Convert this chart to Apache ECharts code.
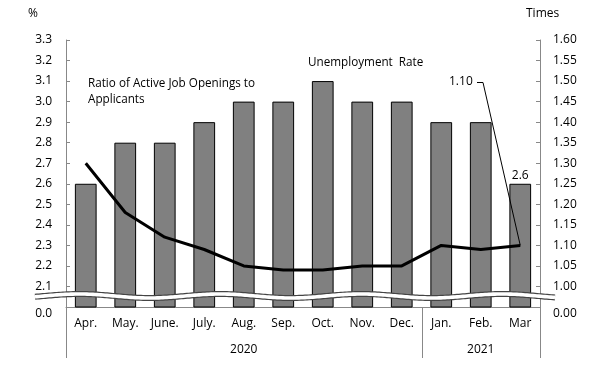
<!DOCTYPE html>
<html>
<head>
<meta charset="utf-8">
<script src="https://cdn.jsdelivr.net/npm/echarts@6/dist/echarts.min.js"></script>
<style>html,body{margin:0;padding:0;background:#fff;}#c{width:605px;height:367px;}</style>
</head>
<body>
<div id="c"></div>
<script>
var months = ['Apr.','May.','June.','July.','Aug.','Sep.','Oct.','Nov.','Dec.','Jan.','Feb.','Mar'];
var years = ['','','','','2020','','','','','','2021',''];
var unemployment = [2.6, 2.8, 2.8, 2.9, 3.0, 3.0, 3.1, 3.0, 3.0, 2.9, 2.9, 2.6];
var jobRatio = [1.30, 1.18, 1.12, 1.09, 1.05, 1.04, 1.04, 1.05, 1.05, 1.10, 1.09, 1.10];

var FONT = 'Open Sans';
var G = {left: 66, right: 65, top: 40, bottom: 60};
var W = 605, H = 367;
var gx0 = G.left, gx1 = W - G.right, gy1 = H - G.bottom;

var chart = echarts.init(document.getElementById('c'), null, {renderer: 'canvas'});

var option = {
  animation: false,
  backgroundColor: '#fff',
  textStyle: {fontFamily: FONT},
  grid: {left: G.left, right: G.right, top: G.top, bottom: G.bottom, containLabel: false},
  xAxis: [{
    type: 'category', data: months, position: 'bottom',
    axisLine: {show: true, lineStyle: {color: '#888', width: 1}},
    axisTick: {show: false},
    axisLabel: {color: '#000', fontSize: 12, fontFamily: FONT, margin: 11, interval: 0}
  }, {
    type: 'category', data: years, position: 'bottom',
    axisLine: {show: false}, axisTick: {show: false},
    axisLabel: {color: '#000', fontSize: 12, fontFamily: FONT, margin: 37, interval: 0}
  }],
  yAxis: [{
    type: 'value', min: 2.0, max: 3.3, interval: 0.1, position: 'left',
    splitLine: {show: false},
    axisLine: {show: true, lineStyle: {color: '#888'}},
    axisTick: {show: true, inside: true, length: 4, lineStyle: {color: '#888'}},
    axisLabel: {
      color: '#000', fontSize: 12, fontFamily: FONT, margin: 14,
      formatter: function (v) { return v < 2.05 ? '{z|0.0}' : v.toFixed(1); },
      rich: {z: {fontSize: 12, fontFamily: FONT, color: '#000', padding: [14, 0, 0, 0]}}
    }
  }, {
    type: 'value', min: 0.95, max: 1.60, interval: 0.05, position: 'right',
    splitLine: {show: false},
    axisLine: {show: true, lineStyle: {color: '#888'}},
    axisTick: {show: true, inside: true, length: 4, lineStyle: {color: '#888'}},
    axisLabel: {
      color: '#000', fontSize: 12, fontFamily: FONT, margin: 13,
      formatter: function (v) { return v < 0.97 ? '{z|0.00}' : v.toFixed(2); },
      rich: {z: {fontSize: 12, fontFamily: FONT, color: '#000', padding: [14, 0, 0, 0]}}
    }
  }],
  series: [{
    type: 'bar', name: 'Unemployment Rate', xAxisIndex: 0, yAxisIndex: 0,
    data: unemployment.map(function (v, i) {
      return i === unemployment.length - 1
        ? {value: v, label: {show: true, position: 'top', distance: 2, color: '#000', fontSize: 12, fontFamily: FONT, formatter: function (p) { return p.value.toFixed(1); }}}
        : v;
    }),
    barCategoryGap: '45%',
    itemStyle: {color: '#808080', borderColor: '#000', borderWidth: 1},
    z: 2
  }, {
    type: 'line', name: 'Ratio', xAxisIndex: 0, yAxisIndex: 1,
    data: jobRatio, showSymbol: false, symbol: 'none',
    lineStyle: {color: '#000', width: 3},
    z: 3
  }]
};
chart.setOption(option);

// decorations
var marPt = chart.convertToPixel({xAxisIndex: 0, yAxisIndex: 1}, [months.length - 1, jobRatio[jobRatio.length - 1]]);
var bandW = (gx1 - gx0) / months.length;
var sepX = gx0 + 9 * bandW;

var wave = [];
for (var x = 35; x <= 556; x += 2) {
  wave.push([x, 296 - 2 * Math.sin((x - 185) / 141 * 2 * Math.PI)]);
}

var TF = '11.7px "' + FONT + '"';
chart.setOption({
  graphic: [
    {type: 'polyline', shape: {points: wave, smooth: 0}, style: {stroke: '#444', lineWidth: 6, fill: null}, z: 10},
    {type: 'polyline', shape: {points: wave, smooth: 0}, style: {stroke: '#fff', lineWidth: 3.6, fill: null}, z: 11},
    {type: 'line', shape: {x1: gx0 + 0.5, y1: gy1, x2: gx0 + 0.5, y2: 358}, style: {stroke: '#888', lineWidth: 1}, z: 5},
    {type: 'line', shape: {x1: Math.round(sepX) + 0.5, y1: gy1, x2: Math.round(sepX) + 0.5, y2: 358}, style: {stroke: '#888', lineWidth: 1}, z: 5},
    {type: 'line', shape: {x1: gx1 + 0.5, y1: gy1, x2: gx1 + 0.5, y2: 358}, style: {stroke: '#888', lineWidth: 1}, z: 5},
    {type: 'text', left: 28, top: 8, style: {text: '%', fill: '#000', font: '12px "' + FONT + '"'}, z: 12},
    {type: 'text', left: 526, top: 8, style: {text: 'Times', fill: '#000', font: '12px "' + FONT + '"'}, z: 12},
    {type: 'text', left: 88, top: 76, style: {text: 'Ratio of Active Job Openings to\nApplicants', fill: '#000', font: TF, lineHeight: 16}, z: 12},
    {type: 'text', left: 308, top: 57, style: {text: 'Unemployment  Rate', fill: '#000', font: TF}, z: 12},
    {type: 'text', left: 449, top: 76, style: {text: '1.10', fill: '#000', font: '12px "' + FONT + '"'}, z: 12},
    {type: 'polyline', shape: {points: [[477, 82.5], [483, 82.5], [marPt[0], marPt[1]]]}, style: {stroke: '#000', lineWidth: 1, fill: null}, z: 12}
  ]
});
</script>
</body>
</html>
